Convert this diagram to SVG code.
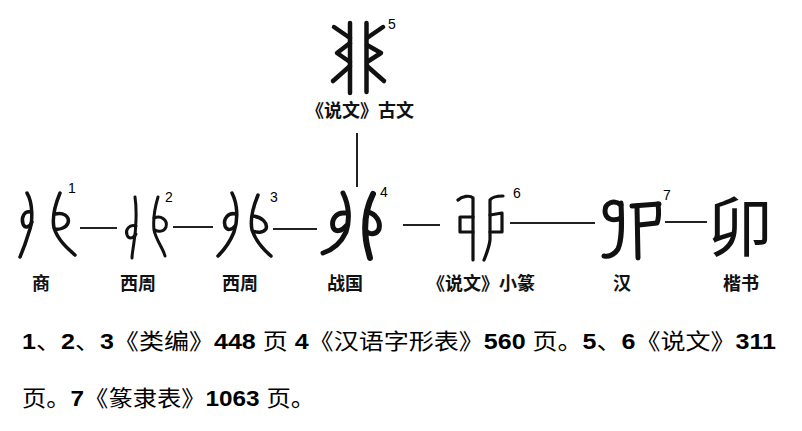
<svg xmlns="http://www.w3.org/2000/svg" width="802" height="431" viewBox="0 0 802 431">
<style>
.g{fill:none;stroke:#111;stroke-linecap:round;stroke-linejoin:round;stroke-width:3.5}
.thick{stroke-width:5}
.c{stroke:#222;stroke-width:2;fill:none}
.n{font-family:"Liberation Sans",Arial,sans-serif;font-size:14px;fill:#000}
.lb{font-family:"Noto Sans CJK SC","Noto Sans CJK TC",sans-serif;font-size:18px;font-weight:700;fill:#111;text-anchor:middle}
.t{font-family:"Liberation Sans","Noto Sans CJK SC",sans-serif;font-size:22px;fill:#000}
.d{font-weight:700;font-family:"Liberation Sans",Arial,sans-serif}
</style>
<rect width="802" height="431" fill="#fff"/>
<g id="connectors">
<line class="c" x1="357" y1="133" x2="357" y2="187"/>
<line class="c" x1="80" y1="228" x2="117" y2="228"/>
<line class="c" x1="173" y1="227" x2="213" y2="227"/>
<line class="c" x1="273" y1="229" x2="317" y2="229"/>
<line class="c" x1="403" y1="225" x2="440" y2="225"/>
<line class="c" x1="510" y1="223" x2="595" y2="223"/>
<line class="c" x1="665" y1="222" x2="707" y2="222"/>
</g>
<g id="n5">
<g class="g" style="stroke-width:4.5">
<path d="M350,23 L350,93"/><path d="M366.5,23 L366.5,92"/>
<path d="M334,27 L350,38"/><path d="M350,43 L337,53 L350,62"/><path d="M350,66 L333,81"/>
<path d="M367,38 L383,27"/><path d="M367,45 L381,53 L367,62"/><path d="M367,66 L384,81"/>
</g>
<text class="n" x="388" y="29">5</text>
<text class="lb" x="360" y="117">《说文》古文</text>
</g>
<g id="n1">
<g class="g">
<path d="M27,193 C33,203 33,222 29,232 C26,242 23,250 20,257"/>
<path d="M31,212 C24,210 21,218 23,224 C25,229 30,227 32,222"/>
<path d="M60,193 C55,205 52,218 54,228 C58,240 67,248 75,255"/>
<path d="M55,214 C63,212 70,216 68,223 C66,228 59,230 55,229"/>
</g>
<text class="n" x="68" y="193">1</text>
<text class="lb" x="41" y="290">商</text>
</g>
<g id="n2">
<g class="g" style="stroke-width:3">
<path d="M135,197 C137,210 136,230 134,242 C133,250 132,254 132,258"/>
<path d="M136,226 C129,224 125,230 127,235 C129,240 134,238 136,234"/>
<path d="M158,197 C155,207 153,220 154,230 C156,240 163,248 165,256"/>
<path d="M154,218 C161,215 168,220 166,227 C164,232 158,232 155,230"/>
</g>
<text class="n" x="165" y="202">2</text>
<text class="lb" x="138" y="290">西周</text>
</g>
<g id="n3">
<g class="g">
<path d="M232,193 C238,205 238,220 234,232 C230,242 224,250 218,256"/>
<path d="M236,214 C228,212 223,219 225,226 C227,231 232,230 235,226"/>
<path d="M258,195 C253,207 250,220 252,230 C256,242 264,250 271,256"/>
<path d="M253,216 C262,217 268,223 266,229 C263,233 257,233 253,231"/>
</g>
<text class="n" x="270" y="202">3</text>
<text class="lb" x="240" y="290">西周</text>
</g>
<g id="n4">
<g class="g thick">
<path d="M343,193 C349,205 350,220 346,232 C341,243 332,250 323,253"/>
<path d="M345,213 C336,212 331,220 333,227 C335,233 342,231 346,226"/>
<path d="M373,194 C366,208 364,225 366,240 C367,248 369,253 370,258" style="stroke-width:6"/>
<path d="M368,212 C376,214 381,222 379,229 C377,234 371,235 367,232"/>
</g>
<text class="n" x="380" y="197">4</text>
<text class="lb" x="345" y="290">战国</text>
</g>
<g id="n6">
<g class="g" style="stroke-width:3.2">
<path d="M458,200 C462,196 470,195 473,198 L473,260"/>
<path d="M473,217 L460,217 L460,232 L473,232"/>
<path d="M503,196 C497,196 492,197 490,200 L490,240 C489,248 486,255 484,260"/>
<path d="M490,215 L502,213 L502,232 L490,232"/>
</g>
<text class="n" x="513" y="198">6</text>
<text class="lb" x="481" y="290">《说文》小篆</text>
</g>
<g id="n7">
<g class="g thick">
<path d="M621,205 C614,199 605,203 605,211 C605,219 613,222 621,218"/>
<path d="M621,203 C622,225 622,240 618,249 C614,255 609,257 604,256"/>
<path d="M632,206 L659,204"/>
<path d="M637,206 L638,258"/>
<path d="M658,204 C659,212 659,218 657,223 L639,225"/>
</g>
<text class="n" x="663" y="200">7</text>
<text class="lb" x="622" y="290">汉</text>
</g>
<g id="n8">
<text x="740" y="251" text-anchor="middle" style="font-family:'Noto Sans CJK SC',sans-serif;font-size:66px;font-weight:400;fill:#111">卯</text>
<text class="lb" x="741" y="290">楷书</text>
</g>
<g id="notes">
<text class="t" x="22" y="349" textLength="754" lengthAdjust="spacingAndGlyphs"><tspan class="d">1</tspan>、<tspan class="d">2</tspan>、<tspan class="d">3</tspan>《类编》<tspan class="d">448 </tspan>页 <tspan class="d">4</tspan>《汉语字形表》<tspan class="d">560 </tspan>页。<tspan class="d">5</tspan>、<tspan class="d">6</tspan>《说文》<tspan class="d">311</tspan></text>
<text class="t" x="22" y="406" textLength="293" lengthAdjust="spacingAndGlyphs">页。<tspan class="d">7</tspan>《篆隶表》<tspan class="d">1063 </tspan>页。</text>
</g>
</svg>
